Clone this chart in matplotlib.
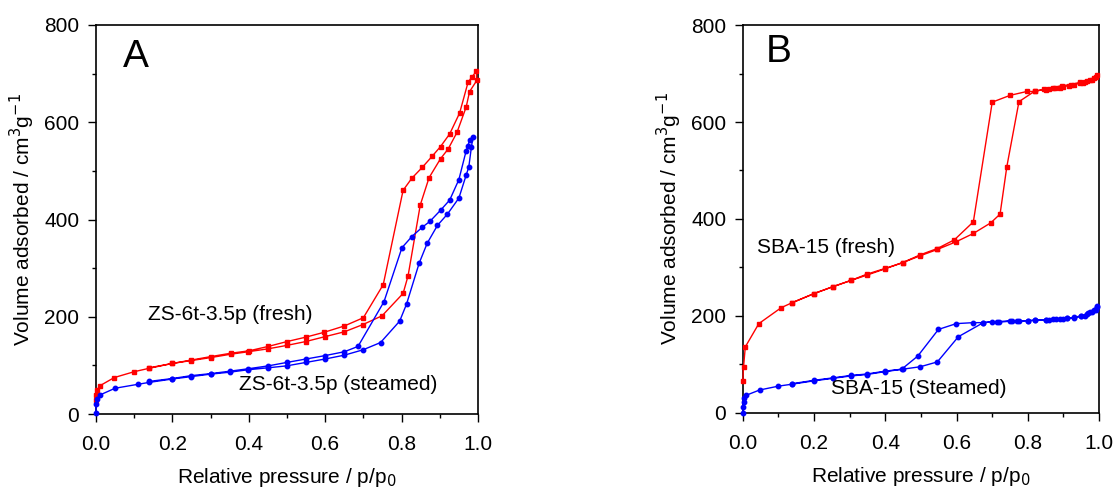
import matplotlib
matplotlib.use("Agg")
import matplotlib.pyplot as plt
from matplotlib.ticker import MultipleLocator

plt.rcParams['font.family'] = ['Liberation Sans', 'DejaVu Sans']

# ---- Panel A: ZS-6t-3.5p ----
a_fresh_ads_p = [0.0, 0.001, 0.003, 0.01, 0.048, 0.10, 0.139, 0.20, 0.25, 0.30, 0.353, 0.398,
                 0.45, 0.499, 0.549, 0.599, 0.65, 0.699, 0.749, 0.804, 0.817, 0.849, 0.872,
                 0.902, 0.922, 0.945, 0.969, 0.978, 0.997]
a_fresh_ads_v = [29, 39, 49, 58, 75, 87, 94, 104, 110, 116, 123, 128,
                 134, 141, 149, 159, 169, 184, 202, 248, 284, 430, 486,
                 525, 545, 579, 631, 663, 686]
a_fresh_des_p = [0.996, 0.984, 0.974, 0.952, 0.926, 0.902, 0.88, 0.854, 0.827, 0.804, 0.752,
                 0.70, 0.65, 0.597, 0.549, 0.50, 0.451, 0.401, 0.353, 0.30, 0.25, 0.20, 0.139]
a_fresh_des_v = [705, 693, 682, 619, 576, 550, 530, 507, 485, 460, 266,
                 198, 181, 168, 158, 149, 139, 130, 125, 118, 111, 104, 95]

a_steam_ads_p = [0.0, 0.0005, 0.002, 0.01, 0.05, 0.109, 0.139, 0.20, 0.25, 0.30, 0.35, 0.398,
                 0.45, 0.499, 0.549, 0.599, 0.65, 0.699, 0.745, 0.795, 0.813, 0.846, 0.867,
                 0.894, 0.92, 0.95, 0.969, 0.976, 0.983, 0.987]
a_steam_ads_v = [2, 20, 30, 39, 53, 61, 65, 72, 77, 82, 86, 91,
                 95, 99, 106, 113, 121, 132, 147, 191, 226, 310, 351,
                 388, 411, 444, 491, 508, 550, 570]
a_steam_des_p = [0.978, 0.974, 0.969, 0.95, 0.926, 0.902, 0.874, 0.854, 0.827, 0.801, 0.754,
                 0.686, 0.65, 0.599, 0.549, 0.499, 0.451, 0.398, 0.35, 0.30, 0.25, 0.20, 0.139]
a_steam_des_v = [564, 552, 541, 482, 440, 419, 396, 384, 365, 342, 231,
                 139, 128, 120, 113, 106, 99, 93, 88, 83, 79, 73, 67]

# ---- Panel B: SBA-15 ----
b_fresh_ads_p = [0.0, 0.002, 0.007, 0.045, 0.108, 0.138, 0.20, 0.252, 0.303, 0.348, 0.399,
                 0.449, 0.498, 0.546, 0.599, 0.647, 0.696, 0.722, 0.741, 0.775, 0.82, 0.85,
                 0.86, 0.875, 0.89, 0.90, 0.915, 0.93, 0.945, 0.955, 0.965, 0.975, 0.985,
                 0.99, 0.995]
b_fresh_ads_v = [66, 94, 136, 184, 217, 227, 246, 260, 273, 284, 297,
                 310, 324, 337, 353, 370, 392, 410, 508, 642, 664, 667,
                 668, 670, 671, 673, 675, 677, 680, 681, 684, 686, 690,
                 693, 697]
b_fresh_des_p = [0.98, 0.96, 0.947, 0.92, 0.895, 0.87, 0.845, 0.82, 0.797, 0.75, 0.70,
                 0.647, 0.594, 0.546, 0.498, 0.449, 0.40, 0.348, 0.303, 0.252, 0.20, 0.138]
b_fresh_des_v = [687, 683, 682, 677, 675, 671, 668, 663, 663, 655, 641,
                 394, 357, 339, 326, 310, 298, 286, 273, 260, 246, 227]

b_steam_ads_p = [0.0, 0.0005, 0.002, 0.004, 0.009, 0.047, 0.10, 0.138, 0.20, 0.252, 0.303,
                 0.348, 0.40, 0.449, 0.498, 0.546, 0.605, 0.675, 0.699, 0.72, 0.75, 0.77,
                 0.80, 0.82, 0.85, 0.86, 0.88, 0.90, 0.91, 0.93, 0.95, 0.96, 0.97, 0.98,
                 0.99, 0.995]
b_steam_ads_v = [0, 12, 23, 30, 36, 47, 55, 59, 66, 71, 76,
                 79, 85, 90, 95, 105, 157, 186, 188, 187, 189, 189,
                 190, 191, 192, 192, 193, 194, 195, 196, 199, 200, 205, 207,
                 212, 218]
b_steam_des_p = [0.993, 0.985, 0.975, 0.965, 0.95, 0.93, 0.91, 0.89, 0.87, 0.85, 0.82,
                 0.80, 0.775, 0.755, 0.713, 0.675, 0.647, 0.599, 0.549, 0.491, 0.446, 0.40,
                 0.348, 0.303, 0.252, 0.20, 0.138]
b_steam_des_v = [220, 213, 208, 203, 200, 197, 195, 194, 193, 192, 191,
                 190, 190, 190, 188, 186, 186, 184, 172, 117, 90, 86,
                 80, 77, 72, 67, 60]

x_ticks = [0.0, 0.2, 0.4, 0.6, 0.8, 1.0]
y_ticks = [0, 200, 400, 600, 800]

RED = '#ff0000'
BLUE = '#0000ff'
FS = 15

fig = plt.figure(figsize=(11.17, 4.92), dpi=100)
axA = fig.add_axes([0.0859, 0.1585, 0.342, 0.7907])
axB = fig.add_axes([0.665, 0.161, 0.319, 0.788])


def loop(ax, ads_p, ads_v, des_p, des_v, color, marker):
    ax.plot(list(ads_p) + list(des_p), list(ads_v) + list(des_v), color=color,
            lw=1.0, marker=marker, ms=3.2, mec=color, mfc=color, clip_on=False, zorder=3)


def style(ax):
    ax.set_xlim(0, 1.0)
    ax.set_ylim(0, 800)
    ax.set_xticks(x_ticks)
    ax.set_xticklabels([f'{t:.1f}' for t in x_ticks])
    ax.set_yticks(y_ticks)
    ax.xaxis.set_minor_locator(MultipleLocator(0.1))
    ax.yaxis.set_minor_locator(MultipleLocator(100))
    ax.tick_params(which='both', direction='out', top=False, right=False,
                   labelsize=FS, width=1.0, colors='black')
    ax.tick_params(which='major', length=6)
    ax.tick_params(axis='x', which='major', pad=9)
    ax.tick_params(axis='y', which='major', pad=6)
    ax.tick_params(which='minor', length=3)
    for s in ax.spines.values():
        s.set_linewidth(1.2)
    ax.set_xlabel('Relative pressure / p/p$_0$', fontsize=FS, labelpad=9)
    ax.set_ylabel('Volume adsorbed / cm$^3$g$^{-1}$', fontsize=FS, labelpad=5)


loop(axA, a_fresh_ads_p, a_fresh_ads_v, a_fresh_des_p, a_fresh_des_v, RED, 's')
loop(axA, a_steam_ads_p, a_steam_ads_v, a_steam_des_p, a_steam_des_v, BLUE, 'o')
style(axA)
axA.text(0.07, 734, 'A', fontsize=28, va='center', ha='left')
axA.text(0.136, 204, 'ZS-6t-3.5p (fresh)', fontsize=FS, va='center', ha='left')
axA.text(0.374, 60, 'ZS-6t-3.5p (steamed)', fontsize=FS, va='center', ha='left')

loop(axB, b_fresh_ads_p, b_fresh_ads_v, b_fresh_des_p, b_fresh_des_v, RED, 's')
loop(axB, b_steam_ads_p, b_steam_ads_v, b_steam_des_p, b_steam_des_v, BLUE, 'o')
style(axB)
axB.text(0.063, 745, 'B', fontsize=28, va='center', ha='left')
axB.text(0.039, 342, 'SBA-15 (fresh)', fontsize=FS, va='center', ha='left')
axB.text(0.248, 51, 'SBA-15 (Steamed)', fontsize=FS, va='center', ha='left')

fig.savefig('out.png', dpi=100)
